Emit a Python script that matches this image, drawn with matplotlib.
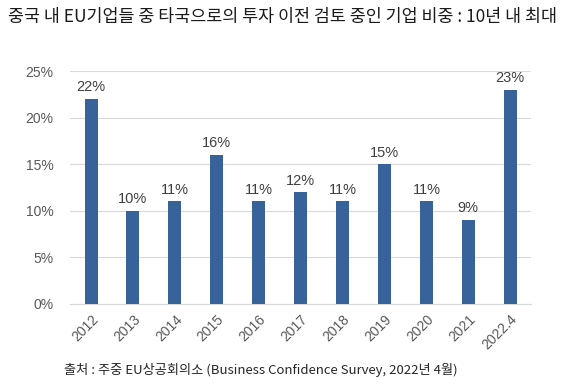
import matplotlib as mpl
mpl.use('Agg')
import matplotlib.pyplot as plt
from matplotlib.ticker import FuncFormatter

plt.rcParams['font.family'] = ['Noto Sans CJK KR', 'DejaVu Sans']

years = ['2012', '2013', '2014', '2015', '2016', '2017', '2018', '2019', '2020', '2021', '2022.4']
share = [22, 10, 11, 16, 11, 12, 11, 15, 11, 9, 23]
title = '중국 내 EU기업들 중 타국으로의 투자 이전 검토 중인 기업 비중 : 10년 내 최대'
source = '출처 : 주중 EU상공회의소 (Business Confidence Survey, 2022년 4월)'

fig = plt.figure(figsize=(5.7, 3.88), dpi=100)
ax = fig.add_axes([0.123, 0.2165, 0.809, 0.6005])

x = range(len(years))
bars = ax.bar(x, share, width=0.31, color='#38629A', zorder=3)
for xi, v in zip(x, share):
    ax.text(xi, v + 0.5, '%d%%' % v, ha='center', va='bottom', fontsize=10.5,
            color='#404040', family=['Liberation Sans', 'DejaVu Sans'])

ax.set_xlim(-0.5, len(years) - 0.5)
ax.set_ylim(0, 25)
ax.set_yticks([0, 5, 10, 15, 20, 25])
ax.yaxis.set_major_formatter(FuncFormatter(lambda v, p: '%d%%' % v))
ax.set_xticks(list(x))
ax.set_xticklabels(years, rotation=45, ha='right', rotation_mode='anchor',
                   family=['Liberation Sans', 'DejaVu Sans'])
for lab in ax.get_yticklabels():
    lab.set_family(['Liberation Sans', 'DejaVu Sans'])
ax.tick_params(axis='both', length=0, labelsize=10, colors='#595959')
ax.tick_params(axis='y', pad=12)
ax.tick_params(axis='x', pad=6)
ax.grid(axis='y', color='#D9D9D9', linewidth=0.8, zorder=0)
for s in ['top', 'right', 'left']:
    ax.spines[s].set_visible(False)
ax.spines['bottom'].set_color('#D9D9D9')

fig.text(0.014, 0.955, title, fontsize=12.5, color='#1a1a1a', va='center', ha='left')
fig.text(0.457, 0.046, source, fontsize=9.5, color='#262626', va='center', ha='center')

plt.savefig('out.png', dpi=100)
